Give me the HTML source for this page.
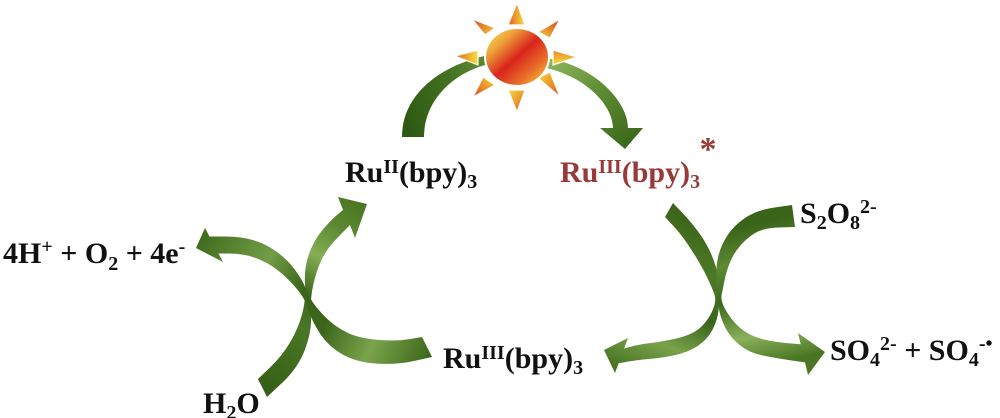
<!DOCTYPE html>
<html>
<head>
<meta charset="utf-8">
<style>
  html, body { margin: 0; padding: 0; background: #ffffff; }
  svg { display: block; }
  .t { font-family: "Liberation Serif", "Times New Roman", serif; font-weight: bold; font-size: 30px; fill: #111111; white-space: pre; }
  .r { fill: #993a3a; }
</style>
</head>
<body>
<svg width="1000" height="418" viewBox="0 0 1000 418" xmlns="http://www.w3.org/2000/svg">
  <defs>
    <linearGradient id="gL" gradientUnits="userSpaceOnUse" x1="400" y1="100" x2="480" y2="80">
      <stop offset="0" stop-color="#2e5913"/>
      <stop offset="0.6" stop-color="#426f20"/>
      <stop offset="1" stop-color="#5a8630"/>
    </linearGradient>
    <linearGradient id="gR" gradientUnits="userSpaceOnUse" x1="545" y1="60" x2="625" y2="150">
      <stop offset="0" stop-color="#8fb75e"/>
      <stop offset="0.5" stop-color="#5e8c33"/>
      <stop offset="1" stop-color="#3a681a"/>
    </linearGradient>
    <linearGradient id="gA" gradientUnits="userSpaceOnUse" x1="262" y1="390" x2="365" y2="205">
      <stop offset="0" stop-color="#355f16"/>
      <stop offset="0.35" stop-color="#4a7725"/>
      <stop offset="0.5" stop-color="#3d681b"/>
      <stop offset="0.68" stop-color="#86ad56"/>
      <stop offset="0.85" stop-color="#5b8931"/>
      <stop offset="1" stop-color="#4a7624"/>
    </linearGradient>
    <linearGradient id="gB" gradientUnits="userSpaceOnUse" x1="432" y1="350" x2="196" y2="245">
      <stop offset="0" stop-color="#3d681b"/>
      <stop offset="0.22" stop-color="#7ba34c"/>
      <stop offset="0.42" stop-color="#3b661a"/>
      <stop offset="0.55" stop-color="#3a6419"/>
      <stop offset="0.72" stop-color="#729d46"/>
      <stop offset="1" stop-color="#3f6b1d"/>
    </linearGradient>
    <linearGradient id="gC" gradientUnits="userSpaceOnUse" x1="669" y1="205" x2="604" y2="360">
      <stop offset="0" stop-color="#3a6419"/>
      <stop offset="0.3" stop-color="#4c7926"/>
      <stop offset="0.55" stop-color="#3a6419"/>
      <stop offset="0.78" stop-color="#7aa24b"/>
      <stop offset="1" stop-color="#4a7624"/>
    </linearGradient>
    <linearGradient id="gD" gradientUnits="userSpaceOnUse" x1="795" y1="215" x2="825" y2="352">
      <stop offset="0" stop-color="#3a6419"/>
      <stop offset="0.25" stop-color="#5c8a32"/>
      <stop offset="0.5" stop-color="#3c671b"/>
      <stop offset="0.78" stop-color="#8ab15a"/>
      <stop offset="1" stop-color="#4a7624"/>
    </linearGradient>
    <linearGradient id="sun" x1="0" y1="0" x2="1" y2="1">
      <stop offset="0" stop-color="#f6ec52"/>
      <stop offset="0.25" stop-color="#eea03a"/>
      <stop offset="0.5" stop-color="#d9241c"/>
      <stop offset="0.75" stop-color="#e8702a"/>
      <stop offset="1" stop-color="#f5e040"/>
    </linearGradient>
    <linearGradient id="r1" x1="0" y1="0" x2="1" y2="0"><stop offset="0" stop-color="#e4601f"/><stop offset="1" stop-color="#f6e03c"/></linearGradient>
    <linearGradient id="r2" x1="1" y1="0" x2="0" y2="1"><stop offset="0" stop-color="#d9401d"/><stop offset="1" stop-color="#f4cf38"/></linearGradient>
    <linearGradient id="r3" x1="0" y1="0" x2="0" y2="1"><stop offset="0" stop-color="#e8862a"/><stop offset="1" stop-color="#f6e03c"/></linearGradient>
    <linearGradient id="r4" x1="1" y1="1" x2="0" y2="0"><stop offset="0" stop-color="#e0521e"/><stop offset="1" stop-color="#f6dc3a"/></linearGradient>
    <linearGradient id="r5" x1="1" y1="1" x2="0" y2="0"><stop offset="0" stop-color="#e2581f"/><stop offset="1" stop-color="#f6e03c"/></linearGradient>
    <linearGradient id="r6" x1="0" y1="1" x2="1" y2="0"><stop offset="0" stop-color="#dd481e"/><stop offset="1" stop-color="#f6d83a"/></linearGradient>
    <linearGradient id="r7" x1="0" y1="0" x2="1" y2="0"><stop offset="0" stop-color="#e2621f"/><stop offset="1" stop-color="#f6e03c"/></linearGradient>
    <linearGradient id="r8" x1="0" y1="0" x2="1" y2="1"><stop offset="0" stop-color="#d9421d"/><stop offset="1" stop-color="#f4cc38"/></linearGradient>
  </defs>

  <!-- top arcs (behind the sun) -->
  <path d="M 402,137 C 402,95 440,62 500,53 L 500,62 C 455,68 424,100 424,137 Z" fill="url(#gL)"/>
  <path d="M 535,57 C 590,60 628,100 628,128 L 643,128 L 625,149 L 600,128 L 613,128 C 613,104 582,72 535,66 Z" fill="url(#gR)"/>

  <!-- sun rays -->
  <g stroke="#ffffff" stroke-width="1.2" stroke-linejoin="miter">
    <polygon points="508,25 517,3 525,25" fill="url(#r1)"/>
    <polygon points="538,32 560,19 550,38" fill="url(#r2)"/>
    <polygon points="553,50 577,57 553,65" fill="url(#r3)"/>
    <polygon points="538,78 550,72 560,97" fill="url(#r4)"/>
    <polygon points="508,90 517,112 525,90" fill="url(#r5)"/>
    <polygon points="483,77 473,97 495,85" fill="url(#r6)"/>
    <polygon points="478,50 455,56 478,65" fill="url(#r7)"/>
    <polygon points="485,35 472,19 495,28" fill="url(#r8)"/>
  </g>
  <!-- sun body -->
  <ellipse cx="517" cy="57" rx="33" ry="30" fill="#ffffff"/>
  <ellipse cx="517" cy="57" rx="31" ry="28" fill="url(#sun)"/>

  <!-- left crossing arrows -->
  <path d="M 258,379 L 270,367.5 Q 282,356 290,342.5 Q 298,329 302,314.5 Q 306,300 305,284 Q 304,268 309,254 Q 314,240 322.5,230 Q 331,220 337,215 L 343,210 L 338,197 L 367,204 L 355,238 L 350,225 L 346.5,228.5 Q 343,232 334.5,241 Q 326,250 321,261 Q 316,272 313,286 Q 310,300 311,315.5 Q 312,331 305,349.5 Q 298,368 282.5,382.5 L 267,397 Z" fill="url(#gA)"/>
  <path d="M 422,337 L 408.5,339.25 Q 395,341.5 376.5,339.75 Q 358,338 347,332.5 Q 336,327 328.5,320 Q 321,313 315.5,306 Q 310,299 306,289 Q 302,279 294.25,268.85 Q 286.5,258.7 275.9,251.2 Q 265.3,243.7 253.15,240.15 Q 241,236.6 225.25,236.55 L 209.5,236.5 L 205,228 L 196,248 L 223,262 L 218.5,253.5 L 228.75,253.45 Q 239,253.4 248.85,255.85 Q 258.7,258.3 268.1,263.8 Q 277.5,269.3 285.75,277.15 Q 294,285 300,293 Q 306,301 308.5,310 Q 311,319 319,332 Q 327,345 341,353.5 Q 355,362 375.5,363.5 Q 396,365 414,361 L 432,357 Z" fill="url(#gB)"/>

  <!-- right crossing arrows -->
  <path d="M 673,203 L 682.5,213 Q 692,223 699.5,233.5 Q 707,244 711.5,254.75 Q 716,265.5 717.95,275.75 Q 719.9,286 719.7,293 Q 719.5,300 718.6,309.8 Q 717.7,319.6 712.55,329.65 Q 707.4,339.7 697.5,346.1 Q 687.6,352.5 674.3,355.25 Q 661,358 651.2,358.7 Q 641.4,359.4 630,361.3 L 618.6,363.2 L 615,373 L 604,350 L 628,338 L 624.1,348.5 L 631.35,346.55 Q 638.6,344.6 648.8,343.3 Q 659,342 670.7,339.75 Q 682.4,337.5 690.5,333.9 Q 698.6,330.3 704.45,323.35 Q 710.3,316.4 713.4,308.2 Q 716.5,300 714.3,294 Q 712.1,288 708.05,279.25 Q 704,270.5 698.5,261.25 Q 693,252 686.5,242.5 Q 680,233 672.5,225 L 665,217 Z" fill="url(#gC)"/>
  <path d="M 792,205 L 774.6,207.45 Q 757.2,209.9 745.5,217.65 Q 733.8,225.4 727.05,236 Q 720.3,246.6 717.95,257.8 Q 715.6,269 716.3,278.4 Q 717,287.8 717.25,294 Q 717.5,300.2 718.95,309 Q 720.4,317.8 725.35,327.65 Q 730.3,337.5 739.6,344.95 Q 748.9,352.4 761.25,355.1 Q 773.6,357.8 789.3,360.1 L 805,362.4 L 808,375 L 825,352 L 798,333 L 800.7,344.3 L 788.55,343.25 Q 776.4,342.2 765.75,339.9 Q 755.1,337.6 747.4,333.05 Q 739.7,328.5 733.65,321.35 Q 727.6,314.2 724.05,307 Q 720.5,299.8 721.75,294 Q 723,288.2 724.7,279.6 Q 726.4,271 730.05,262.2 Q 733.7,253.4 739.95,246 Q 746.2,238.6 754.5,233.35 Q 762.8,228.1 778.9,227.55 L 795,227 Z" fill="url(#gD)"/>

  <!-- labels -->
  <text class="t" x="345" y="182">Ru<tspan dy="-9" font-size="20">II</tspan><tspan dy="9">(bpy)</tspan><tspan dy="6" font-size="20">3</tspan></text>
  <text class="t r" x="560" y="182">Ru<tspan dy="-9" font-size="20">III</tspan><tspan dy="9">(bpy)</tspan><tspan dy="6" font-size="20">3</tspan></text>
  <text class="t r" x="708" y="160" text-anchor="middle" style="font-size:34px">*</text>

  <text class="t" x="3" y="263">4H<tspan dy="-10" font-size="20">+</tspan><tspan dy="10"> + O</tspan><tspan dy="7" font-size="20">2</tspan><tspan dy="-7"> + 4e</tspan><tspan dy="-10" font-size="20">-</tspan></text>

  <text class="t" x="203" y="413">H<tspan dy="6" font-size="20">2</tspan><tspan dy="-6">O</tspan></text>

  <text class="t" x="443" y="368">Ru<tspan dy="-9" font-size="20">III</tspan><tspan dy="9">(bpy)</tspan><tspan dy="6" font-size="20">3</tspan></text>

  <text class="t" x="800" y="223">S<tspan dy="6" font-size="20">2</tspan><tspan dy="-6">O</tspan><tspan dy="6" font-size="20">8</tspan><tspan dy="-16" font-size="20">2-</tspan></text>

  <text class="t" x="830" y="360">SO<tspan dy="6" font-size="20">4</tspan><tspan dy="-16" font-size="20">2-</tspan><tspan dy="10"> + SO</tspan><tspan dy="6" font-size="20">4</tspan><tspan dy="-16" font-size="20">-•</tspan></text>
</svg>
</body>
</html>
